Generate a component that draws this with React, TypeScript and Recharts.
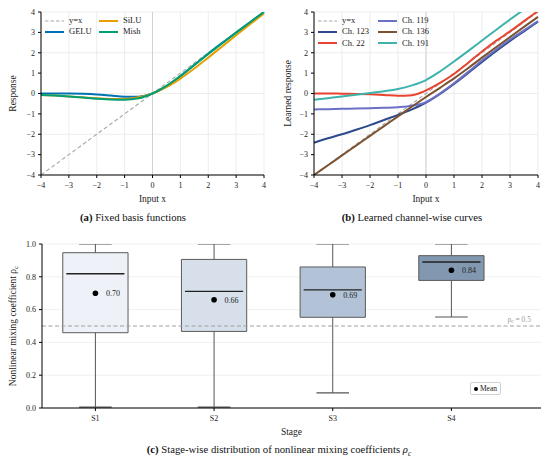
import React from "react";
import {
  LineChart,
  Line,
  XAxis,
  YAxis,
  CartesianGrid,
  ReferenceLine,
  ReferenceArea,
  ComposedChart,
  Scatter,
  LabelList,
} from "recharts";

const serif = '"Liberation Serif", "Times New Roman", serif';

// shared input grid for panels (a) and (b)
const inputX = [-4, -3.5, -3, -2.5, -2, -1.5, -1, -0.5, 0, 0.5, 1, 1.5, 2, 2.5, 3, 3.5, 4];
const axisTicks = [-4, -3, -2, -1, 0, 1, 2, 3, 4];

// (a) fixed basis functions
const geluY = [0, -0.001, -0.004, -0.016, -0.045, -0.1, -0.159, -0.154, 0, 0.346, 0.841, 1.4, 1.955, 2.484, 2.996, 3.499, 4.0];
const siluY = [-0.072, -0.102, -0.142, -0.189, -0.238, -0.274, -0.269, -0.189, 0, 0.311, 0.731, 1.226, 1.762, 2.31, 2.858, 3.397, 3.928];
const mishY = [-0.073, -0.104, -0.146, -0.198, -0.252, -0.293, -0.303, -0.236, 0, 0.375, 0.865, 1.404, 1.944, 2.47, 2.987, 3.497, 3.997];

// (b) learned channel-wise curves
const ch123Y = [-2.42, -2.2, -2.0, -1.78, -1.55, -1.3, -1.05, -0.78, -0.45, -0.02, 0.47, 1.0, 1.55, 2.08, 2.58, 3.05, 3.52];
const ch22Y = [0.0, 0.0, -0.01, -0.02, -0.04, -0.07, -0.11, -0.08, 0.15, 0.52, 0.96, 1.5, 2.06, 2.58, 3.05, 3.55, 4.05];
const ch119Y = [-0.78, -0.77, -0.75, -0.74, -0.72, -0.7, -0.67, -0.6, -0.42, 0.0, 0.5, 1.05, 1.62, 2.15, 2.65, 3.1, 3.56];
const ch136Y = [-4.0, -3.52, -3.04, -2.56, -2.08, -1.6, -1.12, -0.64, -0.17, 0.28, 0.74, 1.24, 1.76, 2.27, 2.77, 3.27, 3.76];
const ch191Y = [-0.31, -0.23, -0.15, -0.06, 0.03, 0.11, 0.22, 0.4, 0.66, 1.08, 1.57, 2.08, 2.6, 3.12, 3.63, 4.12, 4.6];

// (c) box plot stats per stage
const stages = ["S1", "S2", "S3", "S4"];
const whiskerLow = [0.005, 0.005, 0.092, 0.555];
const q1 = [0.459, 0.467, 0.553, 0.778];
const medians = [0.819, 0.711, 0.72, 0.89];
const q3 = [0.947, 0.906, 0.86, 0.929];
const whiskerHigh = [1.0, 1.0, 1.0, 1.0];
const means = [0.7, 0.66, 0.69, 0.84];
const boxFills = ["#eef1f7", "#d7dfea", "#b3c3d7", "#8297b0"];
const rhoTicks = [0, 0.2, 0.4, 0.6, 0.8, 1.0];

const basisSeries = [
  { key: "gelu", name: "GELU", color: "#0072B2", values: geluY },
  { key: "silu", name: "SiLU", color: "#E69F00", values: siluY },
  { key: "mish", name: "Mish", color: "#009E73", values: mishY },
];

const channelSeries = [
  { key: "c123", name: "Ch. 123", color: "#2c4a8a", values: ch123Y },
  { key: "c22", name: "Ch. 22", color: "#e8432e", values: ch22Y },
  { key: "c119", name: "Ch. 119", color: "#6b70c4", values: ch119Y },
  { key: "c136", name: "Ch. 136", color: "#7b5232", values: ch136Y },
  { key: "c191", name: "Ch. 191", color: "#3db3ab", values: ch191Y },
];

function buildRows(series: { key: string; values: number[] }[]) {
  return inputX.map((x, i) => {
    const row: Record<string, number> = { x };
    series.forEach((s) => (row[s.key] = s.values[i]));
    return row;
  });
}

const fmtSigned = (v: number) => (v < 0 ? `\u2212${-v}` : `${v}`);

const tickStyle = { fontSize: 8, fill: "#222", fontFamily: serif };

function YTitle({ viewBox, dx, children }: any) {
  const x = viewBox.x + dx;
  const y = viewBox.y + viewBox.height / 2;
  return (
    <text
      x={x}
      y={y}
      transform={`rotate(-90 ${x} ${y})`}
      textAnchor="middle"
      dominantBaseline="central"
      fontSize={9.5}
      fill="#222"
      fontFamily={serif}
    >
      {children}
    </text>
  );
}

function XTitle({ viewBox, dy, text }: any) {
  return (
    <text
      x={viewBox.x + viewBox.width / 2}
      y={viewBox.y + dy}
      textAnchor="middle"
      dominantBaseline="central"
      fontSize={9.5}
      fill="#222"
      fontFamily={serif}
    >
      {text}
    </text>
  );
}

type LegendItem = { name: string; color: string; dashed?: boolean };

function CurveLegend({ items, left, top, colWidth, rows }: { items: LegendItem[]; left: number; top: number; colWidth: number; rows: number }) {
  return (
    <div
      style={{
        position: "absolute",
        left,
        top,
        display: "grid",
        gridAutoFlow: "column",
        gridTemplateRows: `repeat(${rows}, 11.3px)`,
        gridAutoColumns: `${colWidth}px`,
        fontSize: 8.5,
        color: "#222",
        lineHeight: "11.3px",
      }}
    >
      {items.map((it) => (
        <div key={it.name} style={{ display: "flex", alignItems: "center", whiteSpace: "nowrap" }}>
          <svg width={19} height={6} style={{ marginRight: 5 }}>
            <line
              x1={0}
              y1={3}
              x2={19}
              y2={3}
              stroke={it.color}
              strokeWidth={it.dashed ? 1.1 : 2}
              strokeDasharray={it.dashed ? "3.5 2" : undefined}
            />
          </svg>
          {it.name}
        </div>
      ))}
    </div>
  );
}

function CurvePanel({
  series,
  yTitle,
  yAxisWidth,
  rightMargin,
}: {
  series: { key: string; name: string; color: string; values: number[] }[];
  yTitle: string;
  yAxisWidth: number;
  rightMargin: number;
}) {
  const rows = buildRows(series);
  return (
    <LineChart width={275} height={205} data={rows} margin={{ top: 12, right: rightMargin, bottom: 0, left: 0 }}>
      <CartesianGrid stroke="#e8e8e8" strokeWidth={0.8} />
      <XAxis
        type="number"
        dataKey="x"
        domain={[-4, 4]}
        ticks={axisTicks}
        tickFormatter={fmtSigned}
        tick={tickStyle}
        tickSize={3}
        tickMargin={4}
        height={30}
        stroke="#000"
        label={<XTitle dy={24} text="Input x" />}
      />
      <YAxis
        type="number"
        domain={[-4, 4]}
        ticks={axisTicks}
        allowDataOverflow
        tickFormatter={fmtSigned}
        tick={tickStyle}
        tickSize={3}
        tickMargin={3}
        width={yAxisWidth}
        stroke="#000"
        label={<YTitle dx={13}>{yTitle}</YTitle>}
      />
      <ReferenceLine x={0} stroke="#d2d2d2" strokeWidth={1} />
      <Line
        type="linear"
        dataKey="x"
        stroke="#a8a8a8"
        strokeWidth={1.1}
        strokeDasharray="4 2.5"
        dot={false}
        isAnimationActive={false}
      />
      {series.map((s) => (
        <Line
          key={s.key}
          type="monotone"
          dataKey={s.key}
          stroke={s.color}
          strokeWidth={2}
          dot={false}
          isAnimationActive={false}
        />
      ))}
    </LineChart>
  );
}

function RhoLabel({ viewBox }: any) {
  const x = viewBox.x + viewBox.width - 10;
  const y = viewBox.y - 7;
  return (
    <text x={x} y={y} textAnchor="end" fontSize={7.5} fill="#999" fontFamily={serif} dominantBaseline="central">
      ρ<tspan fontSize={5.5} dy={2}>c</tspan>
      <tspan dy={-2}> = 0.5</tspan>
    </text>
  );
}

function MeanDot(props: any) {
  return <circle cx={props.cx} cy={props.cy} r={2.8} fill="#000" />;
}

function BoxPanel() {
  const meanRows = means.map((m, i) => ({ x: i + 1, y: m, label: m.toFixed(2) }));
  const halfBox = 0.275;
  const halfCap = 0.1375;
  const halfMed = 0.245;
  return (
    <ComposedChart width={550} height={210} margin={{ top: 14, right: 9, bottom: 0, left: 0 }}>
      <CartesianGrid stroke="#ececec" strokeWidth={0.8} vertical={false} />
      <XAxis
        type="number"
        dataKey="x"
        domain={[0.55, 4.755]}
        ticks={[1, 2, 3, 4]}
        tickFormatter={(v: number) => stages[v - 1]}
        tick={tickStyle}
        tickSize={3}
        tickMargin={4}
        height={32}
        stroke="#000"
        label={<XTitle dy={23.7} text="Stage" />}
      />
      <YAxis
        type="number"
        dataKey="y"
        domain={[0, 1]}
        ticks={rhoTicks}
        tickFormatter={(v: number) => v.toFixed(1)}
        tick={tickStyle}
        tickSize={3}
        tickMargin={3}
        width={42}
        stroke="#000"
        label={
          <YTitle dx={13}>
            Nonlinear mixing coefficient ρ<tspan fontSize={7} dy={2.5}>c</tspan>
          </YTitle>
        }
      />
      <ReferenceLine y={0.5} stroke="#a0a0a0" strokeWidth={1} strokeDasharray="4 2.5" label={<RhoLabel />} />
      {stages.map((s, i) => {
        const p = i + 1;
        return (
          <React.Fragment key={s}>
            <ReferenceLine
              segment={[{ x: p, y: whiskerLow[i] }, { x: p, y: q1[i] }]}
              stroke="#555"
              strokeWidth={1}
              ifOverflow="hidden"
            />
            <ReferenceLine
              segment={[{ x: p, y: q3[i] }, { x: p, y: whiskerHigh[i] }]}
              stroke="#555"
              strokeWidth={1}
              ifOverflow="hidden"
            />
            <ReferenceLine
              segment={[{ x: p - halfCap, y: whiskerLow[i] }, { x: p + halfCap, y: whiskerLow[i] }]}
              stroke="#555"
              strokeWidth={1.2}
              ifOverflow="hidden"
            />
            <ReferenceLine
              segment={[{ x: p - halfCap, y: whiskerHigh[i] }, { x: p + halfCap, y: whiskerHigh[i] }]}
              stroke="#555"
              strokeWidth={1.2}
              ifOverflow="hidden"
            />
            <ReferenceArea
              x1={p - halfBox}
              x2={p + halfBox}
              y1={q1[i]}
              y2={q3[i]}
              fill={boxFills[i]}
              fillOpacity={1}
              stroke="#5a5a5a"
              strokeWidth={1}
            />
            <ReferenceLine
              segment={[{ x: p - halfMed, y: medians[i] }, { x: p + halfMed, y: medians[i] }]}
              stroke="#222"
              strokeWidth={1.4}
            />
          </React.Fragment>
        );
      })}
      <Scatter data={meanRows} dataKey="y" shape={<MeanDot />} isAnimationActive={false}>
        <LabelList dataKey="label" position="right" offset={6} fontSize={8} fill="#222" fontFamily={serif} />
      </Scatter>
    </ComposedChart>
  );
}

const captionStyle: React.CSSProperties = {
  position: "absolute",
  fontSize: 10.7,
  color: "#111",
  textAlign: "center",
  whiteSpace: "nowrap",
  lineHeight: "12px",
};

export default function App() {
  return (
    <div
      style={{
        position: "absolute",
        left: 0,
        top: 0,
        width: 550,
        height: 461,
        background: "#fff",
        fontFamily: serif,
        overflow: "hidden",
      }}
    >
      <div style={{ position: "absolute", left: 0, top: 0 }}>
        <CurvePanel series={basisSeries} yTitle="Response" yAxisWidth={41} rightMargin={11} />
      </div>
      <div style={{ position: "absolute", left: 275, top: 0 }}>
        <CurvePanel series={channelSeries} yTitle="Learned response" yAxisWidth={39} rightMargin={12} />
      </div>
      <div style={{ position: "absolute", left: 0, top: 230 }}>
        <BoxPanel />
      </div>

      <CurveLegend
        left={45}
        top={15}
        colWidth={54}
        rows={2}
        items={[
          { name: "y=x", color: "#a8a8a8", dashed: true },
          ...basisSeries.map((s) => ({ name: s.name, color: s.color })),
        ]}
      />
      <CurveLegend
        left={318}
        top={15}
        colWidth={60}
        rows={3}
        items={[
          { name: "y=x", color: "#a8a8a8", dashed: true },
          ...channelSeries.map((s) => ({ name: s.name, color: s.color })),
        ]}
      />

      <div
        style={{
          position: "absolute",
          left: 470,
          top: 382,
          width: 29,
          height: 11,
          border: "1px solid #d0d0d0",
          borderRadius: 2,
          background: "#fff",
          fontSize: 7.5,
          color: "#222",
          display: "flex",
          alignItems: "center",
          justifyContent: "center",
          gap: 2,
        }}
      >
        <span style={{ width: 4, height: 4, borderRadius: 2, background: "#000", display: "inline-block" }} />
        Mean
      </div>

      <div style={{ ...captionStyle, left: 33, top: 211, width: 200 }}>
        <b>(a)</b> Fixed basis functions
      </div>
      <div style={{ ...captionStyle, left: 312, top: 211, width: 200 }}>
        <b>(b)</b> Learned channel-wise curves
      </div>
      <div style={{ ...captionStyle, left: 79, top: 443, width: 400 }}>
        <b>(c)</b> Stage-wise distribution of nonlinear mixing coefficients{" "}
        <i>ρ</i>
        <sub style={{ fontSize: 7.5, fontStyle: "italic" }}>c</sub>
      </div>
    </div>
  );
}
